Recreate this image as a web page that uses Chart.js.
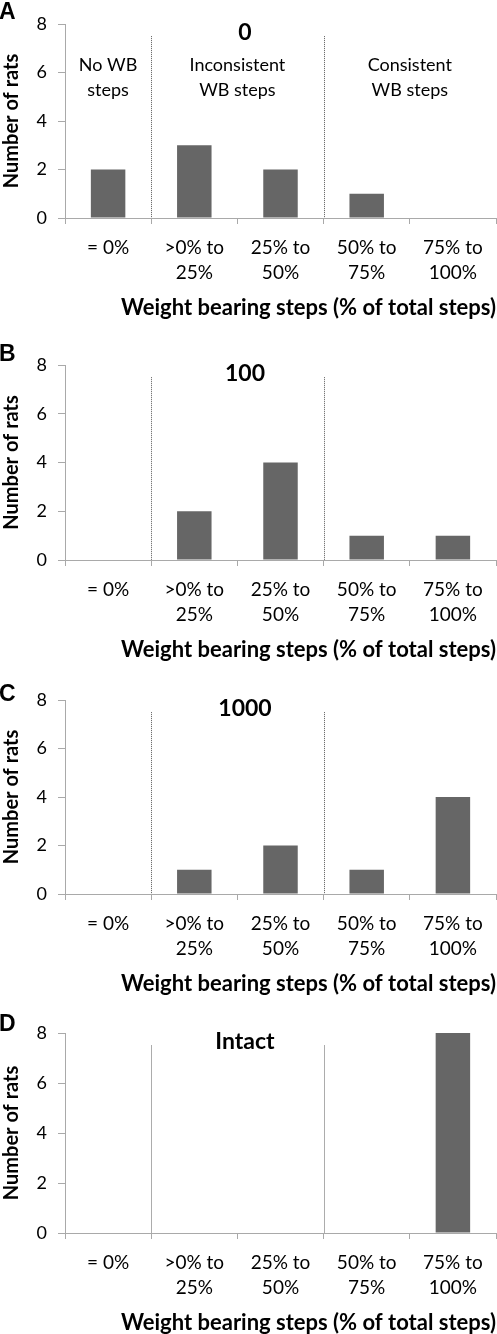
<!DOCTYPE html>
<html><head><meta charset="utf-8">
<script src="https://cdn.jsdelivr.net/npm/chart.js@4.4.0/dist/chart.umd.min.js"></script>
<style>
html,body{margin:0;padding:0;background:#fff;}
body{width:497px;height:1334px;overflow:hidden;position:relative;}
canvas{position:absolute;left:0;}
</style>
</head><body>
<script>
// ---- data ----
const categories = [["= 0%"], [">0% to", "25%"], ["25% to", "50%"], ["50% to", "75%"], ["75% to", "100%"]];
const yTickValues = [0, 2, 4, 6, 8];
const panelLetters = ["A", "B", "C", "D"];
const panelTitles = ["0", "100", "1000", "Intact"];
const ratsGroup0 = [2, 3, 2, 1, 0];
const ratsGroup100 = [0, 2, 4, 1, 1];
const ratsGroup1000 = [0, 1, 2, 1, 4];
const ratsIntact = [0, 0, 0, 0, 8];
const regionLabels = [["No WB", "steps"], ["Inconsistent", "WB steps"], ["Consistent", "WB steps"]];
const regionRanges = [[0, 0], [1, 2], [3, 4]];
const xAxisTitle = "Weight bearing steps (% of total steps)";
const yAxisTitle = "Number of rats";

// ---- style / layout ----
const FONT = "Lato, 'Open Sans', sans-serif";
const AXIS = "#a9a9a9";
const BAR = "#666666";
const layouts = [
  {top: 24, bottom: 218, letterDy: -11, showRegions: true},
  {top: 365, bottom: 560, letterDy: -10, showRegions: false},
  {top: 700, bottom: 894, letterDy: -5, showRegions: false},
  {top: 1033, bottom: 1233, letterDy: -8, showRegions: false}
];
const seriesList = [ratsGroup0, ratsGroup100, ratsGroup1000, ratsIntact];

const decor = {
  id: 'decor',
  afterDraw(chart, args, opts) {
    const ctx = chart.ctx;
    const xs = chart.scales.x, ys = chart.scales.y;
    const area = chart.chartArea;
    ctx.save();
    // dotted dividers
    ctx.strokeStyle = '#5a5a5a';
    ctx.lineWidth = 1;
    ctx.setLineDash([1, 1]);
    [0.5, 2.5].forEach(v => {
      const px = Math.round(xs.getPixelForValue(v)) + 0.5;
      ctx.beginPath();
      ctx.moveTo(px, ys.getPixelForValue(7.5));
      ctx.lineTo(px, area.bottom);
      ctx.stroke();
    });
    ctx.setLineDash([]);
    // panel letter
    ctx.fillStyle = '#000';
    ctx.font = "bold 23px 'Liberation Sans', Arial, sans-serif";
    ctx.textAlign = 'left';
    ctx.textBaseline = 'middle';
    ctx.fillText(opts.letter, -1, area.top + opts.letterDy);
    // panel title
    ctx.font = "bold 23px " + FONT;
    ctx.textAlign = 'center';
    ctx.fillText(opts.title, 245, area.top + 9);
    // region labels
    if (opts.showRegions) {
      ctx.font = "18px " + FONT;
      regionLabels.forEach((lines, k) => {
        const r = regionRanges[k];
        const cx = (xs.getPixelForValue(r[0] - 0.5) + xs.getPixelForValue(r[1] + 0.5)) / 2;
        lines.forEach((t, j) => ctx.fillText(t, cx, area.top + 41 + j * 25));
      });
    }
    ctx.restore();
  }
};

layouts.forEach((L, i) => {
  const canvasTop = L.top - 24;
  const height = L.bottom + 112 - canvasTop;
  const cv = document.createElement('canvas');
  cv.width = 497; cv.height = height;
  cv.style.top = canvasTop + 'px';
  cv.style.width = '497px'; cv.style.height = height + 'px';
  document.body.appendChild(cv);
  new Chart(cv, {
    type: 'bar',
    data: {
      labels: categories,
      datasets: [{data: seriesList[i], backgroundColor: BAR, borderWidth: 0, barPercentage: 0.4, categoryPercentage: 1}]
    },
    options: {
      responsive: false, animation: false, devicePixelRatio: 1,
      layout: {padding: {top: 24, right: 1, left: 0, bottom: 0}},
      plugins: {
        legend: {display: false}, tooltip: {enabled: false}, title: {display: false},
        decor: {letter: panelLetters[i], title: panelTitles[i], letterDy: L.letterDy, showRegions: L.showRegions}
      },
      scales: {
        x: {
          offset: true,
          grid: {drawOnChartArea: false, drawTicks: true, tickLength: 6, color: AXIS, offset: true, lineWidth: 1},
          border: {color: AXIS, width: 1},
          ticks: {font: {family: FONT, size: 19, lineHeight: 25 / 19}, color: '#000', padding: 11, maxRotation: 0, autoSkip: false},
          title: {display: true, text: xAxisTitle, align: 'end', color: '#000',
                  font: {family: FONT, size: 22, weight: 'bold'}, padding: {top: 0, bottom: 9}},
          afterFit(s) { s.height = 112; }
        },
        y: {
          min: 0, max: 8,
          afterBuildTicks(s) { s.ticks = yTickValues.map(v => ({value: v})); },
          grid: {drawOnChartArea: false, drawTicks: true, tickLength: 7, color: AXIS},
          border: {color: AXIS, width: 1},
          ticks: {font: {family: FONT, size: 18}, color: '#000', padding: 11},
          title: {display: true, text: yAxisTitle, color: '#000',
                  font: {family: FONT, size: 20, weight: 'bold'}, padding: {top: 0, bottom: 0}},
          afterFit(s) { s.width = 65; }
        }
      }
    },
    plugins: [decor]
  });
});
</script>
</body></html>
